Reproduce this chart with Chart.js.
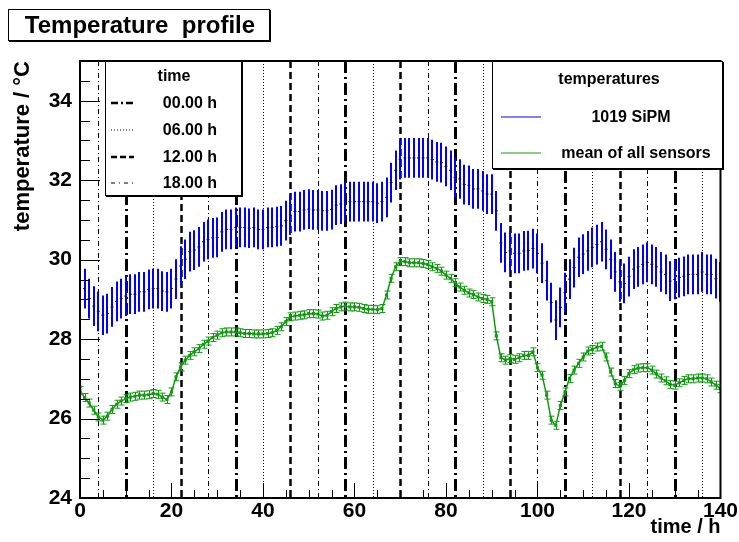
<!DOCTYPE html>
<html>
<head>
<meta charset="utf-8">
<script src="https://cdn.jsdelivr.net/npm/chart.js@4.4.0/dist/chart.umd.min.js"></script>
<style>
  html, body { margin: 0; padding: 0; background: #fff; }
  body { width: 739px; height: 542px; position: relative; overflow: hidden;
         font-family: "Liberation Sans", Arial, sans-serif; font-weight: bold; color: #000; }
  #plot { position: absolute; left: 0; top: 0; }
  .box { position: absolute; background: #fff; border: 1px solid #000; box-shadow: 1px 1px 0 #000; }
  .lbl { position: absolute; transform: translate(-50%, -50%); white-space: nowrap; font-size: 16px; }
  .smp { position: absolute; transform: translateY(-50%); }
</style>
</head>
<body>
<canvas id="plot" width="739" height="542"></canvas>

<div class="box" style="left:8px; top:9px; width:260px; height:30px;">
  <div class="lbl" style="left:131px; top:15px; font-size:24px;">Temperature&nbsp; profile</div>
</div>

<div class="box" id="timeLegend" style="left:105px; top:61px; width:135px; height:133px;">
  <div class="lbl" style="left:68px; top:14px;">time</div>
</div>

<div class="box" id="tempLegend" style="left:492px; top:61px; width:229px; height:106px;">
  <div class="lbl" style="left:116px; top:17px;">temperatures</div>
</div>

<script>
// hours since start of the run
var hours = [
    0, 1, 2, 3, 4, 5, 6, 7, 8, 9, 10, 11, 12, 13, 14, 15, 16, 17, 18, 19,
    20, 21, 22, 23, 24, 25, 26, 27, 28, 29, 30, 31, 32, 33, 34, 35, 36, 37, 38, 39,
    40, 41, 42, 43, 44, 45, 46, 47, 48, 49, 50, 51, 52, 53, 54, 55, 56, 57, 58, 59,
    60, 61, 62, 63, 64, 65, 66, 67, 68, 69, 70, 71, 72, 73, 74, 75, 76, 77, 78, 79,
    80, 81, 82, 83, 84, 85, 86, 87, 88, 89, 90, 91, 92, 93, 94, 95, 96, 97, 98, 99,
    100, 101, 102, 103, 104, 105, 106, 107, 108, 109, 110, 111, 112, 113, 114, 115, 116, 117, 118, 119,
    120, 121, 122, 123, 124, 125, 126, 127, 128, 129, 130, 131, 132, 133, 134, 135, 136, 137, 138, 139,
    140
];

// 1019 SiPM temperature (deg C)
var sipm = [
    26.78, 29.27, 29.02, 28.83, 28.70, 28.60, 28.64, 28.81, 28.95, 29.02,
    29.08, 29.13, 29.13, 29.19, 29.19, 29.25, 29.27, 29.27, 29.21, 29.19,
    29.27, 29.51, 29.84, 30.01, 30.20, 30.24, 30.32, 30.45, 30.51, 30.55,
    30.56, 30.70, 30.76, 30.76, 30.81, 30.81, 30.81, 30.79, 30.81, 30.76,
    30.76, 30.81, 30.81, 30.83, 30.85, 30.98, 31.12, 31.21, 31.21, 31.25,
    31.27, 31.25, 31.25, 31.23, 31.23, 31.26, 31.37, 31.40, 31.46, 31.46,
    31.46, 31.46, 31.46, 31.46, 31.46, 31.42, 31.46, 31.57, 31.94, 32.25,
    32.52, 32.56, 32.56, 32.56, 32.56, 32.56, 32.56, 32.52, 32.46, 32.44,
    32.35, 32.25, 32.07, 32.03, 31.89, 31.87, 31.78, 31.78, 31.73, 31.65,
    31.65, 31.23, 30.42, 30.18, 30.22, 30.16, 30.16, 30.22, 30.23, 30.28,
    30.16, 29.91, 29.47, 28.92, 28.48, 28.80, 29.17, 29.51, 29.80, 30.06,
    30.14, 30.22, 30.31, 30.38, 30.45, 30.26, 30.01, 29.69, 29.44, 29.40,
    29.57, 29.76, 29.82, 29.88, 29.93, 29.88, 29.82, 29.69, 29.63, 29.46,
    29.50, 29.55, 29.58, 29.63, 29.63, 29.63, 29.69, 29.63, 29.63, 29.52,
    29.44
];
var sipmError = 0.5;

// mean of all sensors (deg C)
var meanAll = [
    26.71, 26.53, 26.39, 26.21, 26.04, 25.96, 26.06, 26.23, 26.36, 26.44,
    26.50, 26.54, 26.56, 26.59, 26.59, 26.60, 26.63, 26.61, 26.54, 26.48,
    26.67, 27.05, 27.30, 27.47, 27.59, 27.68, 27.76, 27.87, 27.95, 28.04,
    28.10, 28.16, 28.18, 28.18, 28.18, 28.16, 28.14, 28.14, 28.13, 28.13,
    28.13, 28.14, 28.16, 28.22, 28.31, 28.44, 28.56, 28.58, 28.60, 28.61,
    28.64, 28.64, 28.63, 28.58, 28.60, 28.69, 28.77, 28.81, 28.83, 28.81,
    28.81, 28.80, 28.77, 28.75, 28.75, 28.74, 28.77, 29.11, 29.53, 29.82,
    29.95, 29.95, 29.92, 29.92, 29.92, 29.90, 29.88, 29.82, 29.78, 29.71,
    29.61, 29.53, 29.42, 29.31, 29.23, 29.16, 29.12, 29.06, 29.02, 29.00,
    28.94, 28.08, 27.53, 27.47, 27.51, 27.49, 27.53, 27.59, 27.59, 27.68,
    27.28, 27.09, 26.59, 25.96, 25.83, 26.33, 26.67, 27.01, 27.22, 27.39,
    27.55, 27.70, 27.74, 27.80, 27.82, 27.55, 27.17, 26.88, 26.81, 26.96,
    27.13, 27.23, 27.27, 27.28, 27.28, 27.22, 27.12, 27.02, 26.95, 26.86,
    26.84, 26.90, 26.96, 27.00, 27.00, 27.02, 27.02, 27.00, 26.92, 26.84,
    26.75
];
var meanError = 0.1;

// hours at which each time of day falls
var midnightHours = [10, 34, 58, 82, 106, 130];
var sixHours = [16, 40, 64, 88, 112, 136];
var noonHours = [22, 46, 70, 94, 118];
var eveningHours = [4, 28, 52, 76, 100, 124];

var timeLabels = ["00.00 h", "06.00 h", "12.00 h", "18.00 h"];
var seriesLabels = ["1019 SiPM", "mean of all sensors"];

var BLUE = "#0000ff";
var GREEN = "#109a10";
var FONT = "'Liberation Sans', Arial, sans-serif";

var timeMarks = [
    { hours: midnightHours, width: 3, dash: [12, 4, 2, 4], sample: [7, 3, 2, 3] },
    { hours: sixHours, width: 1, dash: [1, 2], sample: [1, 2] },
    { hours: noonHours, width: 2.5, dash: [7, 4], sample: [6, 3] },
    { hours: eveningHours, width: 1, dash: [5, 3, 1, 3], sample: [4, 4, 1, 4] }
];

function points(values) {
    return values.map(function (v, i) { return { x: hours[i], y: v }; });
}

// dashed vertical lines for the time of day + error bars, under the datasets
var underlay = {
    id: "underlay",
    beforeDatasetsDraw: function (chart) {
        var ctx = chart.ctx;
        var area = chart.chartArea;
        var xs = chart.scales.x, ys = chart.scales.y;

        ctx.save();
        ctx.beginPath();
        ctx.rect(area.left, area.top, area.right - area.left, area.bottom - area.top);
        ctx.clip();

        timeMarks.forEach(function (m) {
            ctx.strokeStyle = "#000";
            ctx.lineWidth = m.width;
            ctx.setLineDash(m.dash);
            m.hours.forEach(function (h) {
                var px = Math.round(xs.getPixelForValue(h)) + 0.5;
                ctx.beginPath();
                ctx.moveTo(px, area.top);
                ctx.lineTo(px, area.bottom);
                ctx.stroke();
            });
        });
        ctx.setLineDash([]);

        chart.data.datasets.forEach(function (ds) {
            var eb = ds.errorBar;
            if (!eb) return;
            ctx.strokeStyle = eb.color;
            ctx.lineWidth = eb.width;
            ds.data.forEach(function (p) {
                var px = Math.round(xs.getPixelForValue(p.x)) + (eb.width % 2 ? 0.5 : 0);
                var top = ys.getPixelForValue(p.y + eb.size);
                var bot = ys.getPixelForValue(p.y - eb.size);
                ctx.beginPath();
                ctx.moveTo(px, top);
                ctx.lineTo(px, bot);
                if (eb.cap) {
                    ctx.moveTo(px - eb.cap, top);
                    ctx.lineTo(px + eb.cap, top);
                    ctx.moveTo(px - eb.cap, bot);
                    ctx.lineTo(px + eb.cap, bot);
                }
                ctx.stroke();
            });
        });
        ctx.restore();
    }
};

// ROOT style frame with ticks pointing inwards
var frame = {
    id: "frame",
    afterDraw: function (chart) {
        var ctx = chart.ctx;
        var a = chart.chartArea;
        var xs = chart.scales.x, ys = chart.scales.y;
        ctx.save();
        ctx.strokeStyle = "#000";
        ctx.lineWidth = 1;
        ctx.beginPath();
        var v, py, px;
        for (v = ys.min; v <= ys.max; v += 0.5) {
            py = Math.round(ys.getPixelForValue(v)) + 0.5;
            var len = (v % 2 === 0) ? 20 : 10;
            ctx.moveTo(a.left, py);
            ctx.lineTo(a.left + len, py);
        }
        for (v = xs.min; v <= xs.max; v += 5) {
            px = Math.round(xs.getPixelForValue(v)) + 0.5;
            var l2 = (v % 20 === 0) ? 15 : 8;
            ctx.moveTo(px, a.bottom);
            ctx.lineTo(px, a.bottom - l2);
        }
        ctx.stroke();
        ctx.lineWidth = 2;
        ctx.strokeRect(a.left, a.top, a.right - a.left, a.bottom - a.top);
        ctx.restore();
    }
};

function sampleSvg(color, width, dash, len) {
    return '<svg width="' + len + '" height="8" style="display:block">' +
        '<line x1="0" y1="4" x2="' + len + '" y2="4" stroke="' + color + '" stroke-width="' + width + '"' +
        (dash ? ' stroke-dasharray="' + dash.join(" ") + '"' : '') + '/></svg>';
}

function buildLegends() {
    var tl = document.getElementById("timeLegend");
    var rows = [41, 68, 95, 121];
    timeLabels.forEach(function (t, i) {
        var m = timeMarks[i];
        tl.insertAdjacentHTML("beforeend",
            '<div class="smp" style="left:5px; top:' + rows[i] + 'px;">' +
            sampleSvg("#000", Math.min(m.width, 2.5), m.sample, 23) + '</div>' +
            '<div class="lbl" style="left:84px; top:' + rows[i] + 'px;">' + t + '</div>');
    });

    var sl = document.getElementById("tempLegend");
    var rows2 = [55, 91];
    var cols = [138, 143];
    var colors = [BLUE, GREEN];
    seriesLabels.forEach(function (t, i) {
        sl.insertAdjacentHTML("beforeend",
            '<div class="smp" style="left:8px; top:' + rows2[i] + 'px;">' +
            sampleSvg(colors[i], 1, null, 40) + '</div>' +
            '<div class="lbl" style="left:' + cols[i] + 'px; top:' + rows2[i] + 'px;">' + t + '</div>');
    });
}

window.onload = function () {
    buildLegends();

    new Chart(document.getElementById("plot"), {
        type: "line",
        data: {
            datasets: [{
                label: seriesLabels[1],
                data: points(meanAll),
                borderColor: GREEN,
                backgroundColor: GREEN,
                borderWidth: 1.5,
                pointStyle: "rect",
                pointRadius: 2.2,
                pointBorderWidth: 0,
                tension: 0,
                errorBar: { size: meanError, color: GREEN, width: 1, cap: 3 }
            }, {
                label: seriesLabels[0],
                data: points(sipm),
                showLine: false,
                borderColor: "#111",
                backgroundColor: "#111",
                pointStyle: "line",
                pointRadius: 1.5,
                pointBorderWidth: 1,
                errorBar: { size: sipmError, color: BLUE, width: 2 }
            }]
        },
        options: {
            responsive: false,
            animation: false,
            devicePixelRatio: 1,
            layout: { padding: { top: 61, right: 18, left: 0, bottom: 0 } },
            plugins: { legend: { display: false }, tooltip: { enabled: false } },
            scales: {
                x: {
                    type: "linear", min: 0, max: 140,
                    grid: { display: false, drawTicks: false },
                    border: { display: false },
                    ticks: {
                        stepSize: 20, maxRotation: 0, autoSkip: false, padding: 1,
                        color: "#000", font: { family: FONT, size: 21, weight: "bold" }
                    },
                    title: {
                        display: true, text: "time / h", align: "end", color: "#000",
                        font: { family: FONT, size: 20, weight: "bold" },
                        padding: { top: 0, bottom: 3 }
                    },
                    afterFit: function (s) { s.height = 44; }
                },
                y: {
                    type: "linear", min: 24, max: 35,
                    grid: { display: false, drawTicks: false },
                    border: { display: false },
                    ticks: {
                        stepSize: 2, includeBounds: false, padding: 8,
                        color: "#000", font: { family: FONT, size: 21, weight: "bold" }
                    },
                    title: {
                        display: true, text: "temperature / \u00B0C", align: "end", color: "#000",
                        font: { family: FONT, size: 22, weight: "bold" },
                        padding: { top: 10, bottom: 0 }
                    },
                    afterFit: function (s) { s.width = 80; }
                }
            }
        },
        plugins: [underlay, frame]
    });
};
</script>
</body>
</html>
